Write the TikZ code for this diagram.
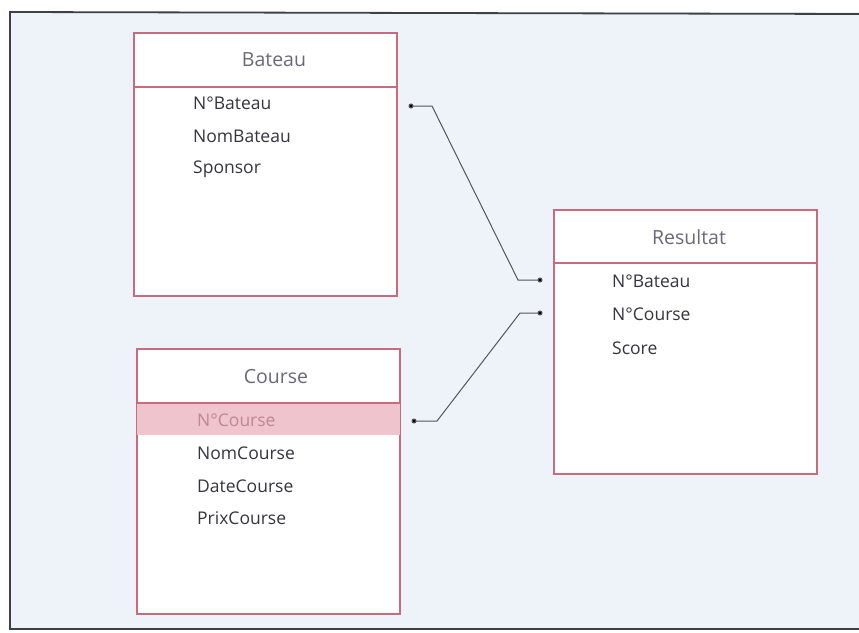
\documentclass[tikz,border=0pt]{standalone}
\usepackage{fontspec}
\setmainfont{Open Sans}
\usetikzlibrary{positioning}
\definecolor{fond}{HTML}{EEF2F9}
\definecolor{bord}{HTML}{C76B7D}
\definecolor{surligne}{HTML}{F0C4CD}
\definecolor{texte}{HTML}{35353C}
\definecolor{entete}{HTML}{6A6A74}
\definecolor{lien}{HTML}{55565C}

\begin{document}
\begin{tikzpicture}[x=1pt,y=-1pt]
	\tikzstyle{every node}+=[inner sep=0pt]
	\tikzstyle{table}=[draw=bord, fill=white, line width=1.6pt, rectangle, anchor=north west, minimum width=263pt]
	\tikzstyle{titre}=[text=entete, font=\fontsize{19.5}{22}\selectfont]
	\tikzstyle{champ}=[text=texte, anchor=west, font=\fontsize{17.5}{20}\selectfont]
	\tikzstyle{lien}=[draw=lien, line width=1pt]
	\useasboundingbox (0,0) rectangle (859,632);
	% fond et cadre
	\fill[white] (0,0) rectangle (859,632);
	\fill[fond] (10,12) rectangle (859,630);
	\draw[black!75, line width=1.8pt] (859,629) -- (10,629) -- (10,12) -- (859,14);
	% Bateau
	\node[table, minimum height=263pt] (bateau) at (133,32) {};
	\draw[bord, line width=1.6pt] ([yshift=-55pt]bateau.north west) -- ([yshift=-55pt]bateau.north east);
	\node[titre] (tbateau) at (274,60) {Bateau};
	\node[champ] (bnum) at (193,103) {N°Bateau};
	\node[champ] (bnom) at (193,136) {NomBateau};
	\node[champ] (bspon) at (193,169) {Sponsor};
	% Course
	\node[table, minimum height=265pt] (course) at (136,348) {};
	\fill[surligne] ([yshift=-56pt,xshift=0.8pt]course.north west) rectangle ([yshift=-87pt,xshift=-0.8pt]course.north east);
	\draw[bord, line width=1.6pt] ([yshift=-55pt]course.north west) -- ([yshift=-55pt]course.north east);
	\node[titre] (tcourse) at (276,377) {Course};
	\node[champ, text=bord!80!black!70] (cnum) at (197,420) {N°Course};
	\node[champ] (cnom) at (197,453) {NomCourse};
	\node[champ] (cdate) at (197,486) {DateCourse};
	\node[champ] (cprix) at (197,518) {PrixCourse};
	% Resultat
	\node[table, minimum height=264pt] (resultat) at (553,209) {};
	\draw[bord, line width=1.6pt] ([yshift=-54pt]resultat.north west) -- ([yshift=-54pt]resultat.north east);
	\node[titre] (tresultat) at (689,237) {Resultat};
	\node[champ] (rbat) at (612,281) {N°Bateau};
	\node[champ] (rcou) at (612,314) {N°Course};
	\node[champ] (rscore) at (612,348) {Score};
	% liens
	\coordinate (pb) at (411,106);
	\coordinate (qb) at (540,280);
	\coordinate (pc) at (414,421);
	\coordinate (qc) at (540,313);
	\draw[lien] (pb) -- (432,106) -- (518,280) -- (qb);
	\draw[lien] (pc) -- (437,421) -- (520,313) -- (qc);
	\foreach \p in {pb,qb,pc,qc}
		\fill[lien] (\p) circle (2);
\end{tikzpicture}
\end{document}
